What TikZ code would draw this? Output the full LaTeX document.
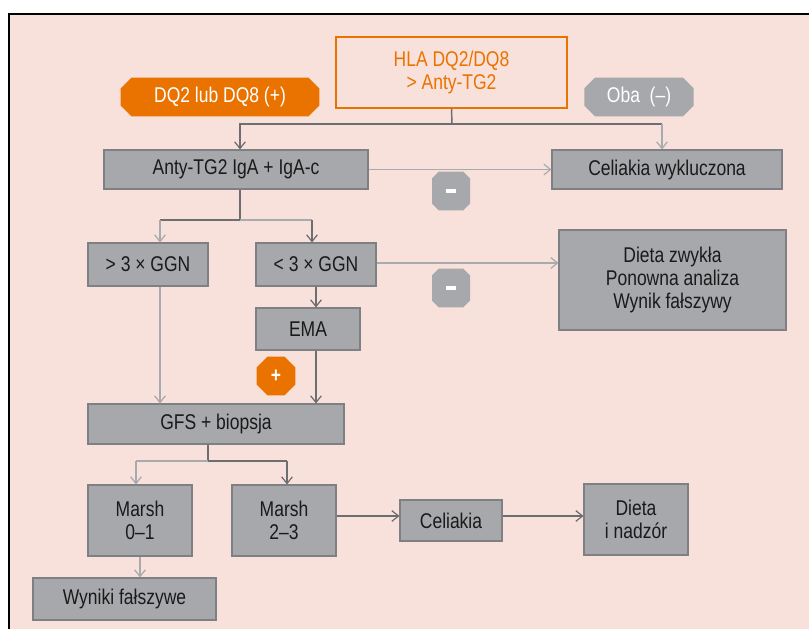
\documentclass[tikz,border=0pt]{standalone}
\usepackage{fontspec}
\setmainfont[FakeStretch=0.82]{Liberation Sans}
\usetikzlibrary{shapes.misc,fit,arrows.meta,calc}
\definecolor{bg}{HTML}{F8E0DB}
\definecolor{boxgray}{HTML}{A7A8AB}
\definecolor{boxedge}{HTML}{7F8083}
\definecolor{org}{HTML}{EA7300}
\definecolor{dk}{HTML}{6D6E71}
\definecolor{lt}{HTML}{A9AAAD}
\definecolor{txt}{HTML}{1A1A1A}
\begin{document}
\begin{tikzpicture}[x=0.75pt,y=-0.75pt,
  txtf/.style={font=\fontsize{16}{17}\selectfont},
  box/.style={fill=boxgray,draw=boxedge,line width=0.8pt,inner sep=0pt,align=center,txtf,text=txt},
  hlabox/.style={fill=bg,draw=org,line width=1pt,inner sep=0pt,align=center,txtf,text=org},
  badge/.style={chamfered rectangle,chamfered rectangle xsep=4.5pt,inner sep=0pt,draw=none,align=center,txtf,text=white},
  dkarrow/.style={draw=dk,line width=1.1pt,-{Straight Barb[length=5pt,width=8pt,line width=0.9pt]}},
  ltarrow/.style={draw=lt,line width=1.1pt,-{Straight Barb[length=5pt,width=8pt,line width=0.9pt]}},
  dkline/.style={draw=dk,line width=1.1pt},
  ltline/.style={draw=lt,line width=1.1pt}
]
\useasboundingbox (0,0) rectangle (809,629);
\fill[white] (0,0) rectangle (809,629);
\fill[bg] (9,14) rectangle (809,629);
\draw[black,line width=1.1pt] (9,629) -- (9,14) -- (809,14);

% boxes
\node[hlabox,fit={(336,37) (567,108)}] (hla) {};
\node[text=org,align=center,txtf] at (hla.center) {HLA DQ2/DQ8\\{>} Anty-TG2};
\node[badge,fill=org,minimum width=149pt,minimum height=29pt] (dq) at (220,97) {DQ2 lub DQ8 (+)};
\node[badge,fill=boxgray,minimum width=82pt,minimum height=29pt] (oba) at (639,97) {Oba\ \ (–)};

\node[box,fit={(104,150) (368,189)}] (anty) {};
\node[txtf,text=txt] at (anty.center) {Anty-TG2 IgA + IgA-c};
\node[box,fit={(552,150) (782,189)}] (wyk) {};
\node[txtf,text=txt] at (wyk.center) {Celiakia wykluczona};

\node[badge,fill=boxgray,minimum width=28.5pt,minimum height=29pt] (m1) at (451,191) {\rule{8pt}{3pt}};

\node[box,fit={(88,243) (208,286)}] (gt) {};
\node[txtf,text=txt] at (gt.center) {> 3 × GGN};
\node[box,fit={(256,243) (376,286)}] (lt) {};
\node[txtf,text=txt] at (lt.center) {< 3 × GGN};
\node[box,fit={(559,230) (786,330)}] (diet) {};
\node[txtf,text=txt,align=center] at (diet.center) {Dieta zwykła\\Ponowna analiza\\Wynik fałszywy};
\node[badge,fill=boxgray,minimum width=28.5pt,minimum height=29pt] (m2) at (451,288) {\rule{8pt}{3pt}};

\node[box,fit={(256,308) (360,350)}] (ema) {};
\node[txtf,text=txt] at (ema.center) {EMA};
\node[badge,fill=org,minimum width=29pt,minimum height=29pt] (plus) at (276,376) {\textbf{+}};

\node[box,fit={(88,404) (344,444)}] (gfs) {};
\node[txtf,text=txt] at (gfs.center) {GFS + biopsja};

\node[box,fit={(88,485) (192,556)}] (m01) {};
\node[txtf,text=txt,align=center] at (m01.center) {Marsh\\0–1};
\node[box,fit={(232,485) (336,556)}] (m23) {};
\node[txtf,text=txt,align=center] at (m23.center) {Marsh\\2–3};
\node[box,fit={(400,500) (502,541)}] (cel) {};
\node[txtf,text=txt] at (cel.center) {Celiakia};
\node[box,fit={(584,484) (688,555)}] (dn) {};
\node[txtf,text=txt,align=center] at (dn.center) {Dieta\\i nadzór};
\node[box,fit={(33,578) (216,620)}] (wf) {};
\node[txtf,text=txt] at (wf.center) {Wyniki fałszywe};

% connectors
\coordinate (j1) at (452,124);
\coordinate (j1l) at (240,124);
\coordinate (j1r) at (662,124);
\draw[dkline] (hla.south) -- (j1);
\draw[dkarrow] (j1) -- (j1l) -- (j1l |- anty.north);
\draw[dkline] (j1) -- (j1r);
\draw[ltarrow] (j1r) -- (j1r |- wyk.north);
\draw[ltarrow] (anty.east) -- (wyk.west);

\coordinate (j2) at (240,220);
\coordinate (j2l) at (160,220);
\coordinate (j2r) at (312,220);
\draw[dkline] (j2 |- anty.south) -- (j2) -- (j2l);
\draw[ltarrow] (j2l) -- (j2l |- gt.north);
\draw[ltline] (j2) -- (j2r);
\draw[dkarrow] (j2r) -- (j2r |- lt.north);
\draw[ltarrow] (lt.east |- 0,263) -- (diet.west |- 0,263);

\coordinate (e1) at (316,0);
\draw[dkarrow] (e1 |- lt.south) -- (e1 |- ema.north);
\draw[dkarrow] (e1 |- ema.south) -- (e1 |- gfs.north);
\coordinate (g1) at (160,0);
\draw[ltarrow] (g1 |- gt.south) -- (g1 |- gfs.north);

\coordinate (j3) at (208,461);
\coordinate (j3l) at (136,461);
\coordinate (j3r) at (287,461);
\draw[dkline] (j3 |- gfs.south) -- (j3);
\draw[ltline] (j3) -- (j3l);
\draw[dkline] (j3) -- (j3r);
\draw[ltarrow] (j3l) -- (j3l |- m01.north);
\draw[dkarrow] (j3r) -- (j3r |- m23.north);

\draw[dkarrow] (m23.east |- 0,516) -- (cel.west |- 0,516);
\draw[dkarrow] (cel.east |- 0,516) -- (dn.west |- 0,516);
\coordinate (w1) at (140,0);
\draw[ltarrow] (w1 |- m01.south) -- (w1 |- wf.north);
\end{tikzpicture}
\end{document}
